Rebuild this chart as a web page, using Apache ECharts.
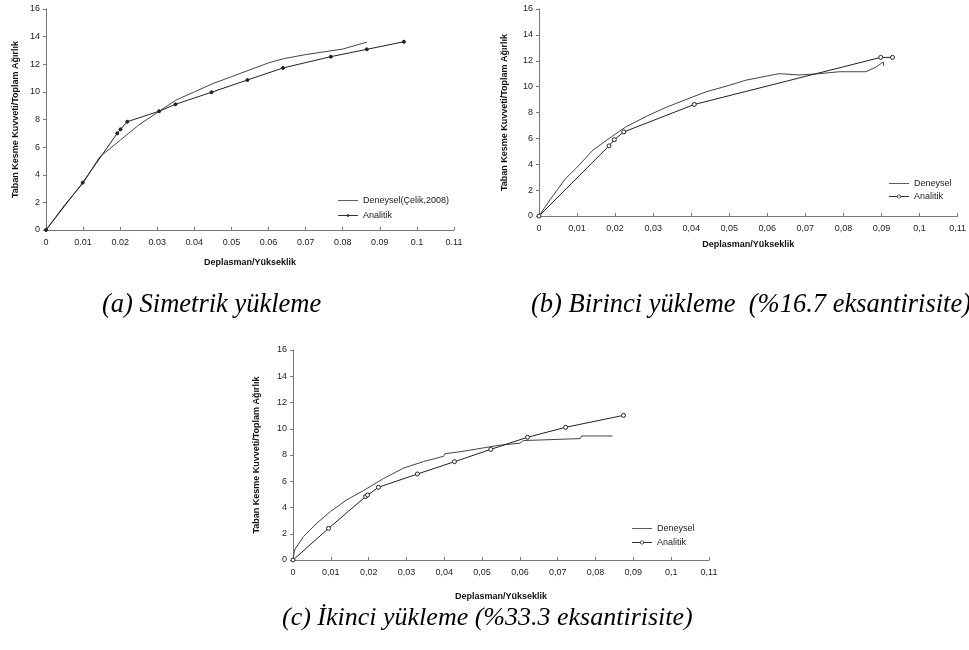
<!DOCTYPE html>
<html>
<head>
<meta charset="utf-8">
<script src="https://cdn.jsdelivr.net/npm/echarts@6/dist/echarts.min.js"></script>
<style>
  html, body { margin: 0; padding: 0; background: #fff; }
  #main { width: 969px; height: 650px; }
</style>
</head>
<body>
<div id="main"></div>
<script>
// eksen degerleri
var xTicks = [0, 0.11, 0.01];
var yTicks = [0, 16, 2];

// (a) Simetrik yukleme
var aDeneysel = [[0,0],[0.005,1.8],[0.01,3.4],[0.0145,5.3],[0.02,6.5],[0.025,7.6],[0.03,8.5],[0.035,9.4],
  [0.04,10.0],[0.045,10.6],[0.05,11.1],[0.055,11.6],[0.06,12.1],[0.064,12.4],[0.07,12.7],[0.075,12.9],
  [0.08,13.1],[0.0865,13.6]];
var aAnalitik = [[0,0],[0.0099,3.43],[0.0192,7.0],[0.0201,7.29],[0.0219,7.84],[0.0305,8.6],[0.0349,9.1],
  [0.0446,9.97],[0.0543,10.86],[0.0639,11.73],[0.0768,12.55],[0.0865,13.08],[0.0965,13.63]];

// (b) Birinci yukleme
var bDeneysel = [[0,0],[0.003,1.3],[0.007,2.9],[0.0098,3.7],[0.0142,5.1],[0.0194,6.2],[0.0229,6.9],
  [0.0282,7.7],[0.0334,8.4],[0.0386,9.0],[0.0439,9.6],[0.05,10.1],[0.0544,10.5],[0.0596,10.8],
  [0.0631,11.0],[0.0684,10.9],[0.0736,11.0],[0.0789,11.15],[0.0859,11.15],[0.0885,11.5],[0.0905,11.9],[0.0906,11.6]];
var bAnalitik = [[0,0],[0.0184,5.42],[0.0198,5.9],[0.0223,6.5],[0.0408,8.62],[0.0898,12.26],[0.0929,12.26]];

// (c) Ikinci yukleme
var cDeneysel = [[0,0],[0.0004,0.76],[0.0028,1.8],[0.0063,2.8],[0.0099,3.7],[0.0143,4.6],[0.0187,5.3],
  [0.0239,6.2],[0.0292,7.0],[0.0345,7.5],[0.0398,7.9],[0.0402,8.1],[0.0442,8.25],[0.0495,8.5],
  [0.0547,8.75],[0.06,8.9],[0.0609,9.1],[0.0759,9.25],[0.0763,9.45],[0.0845,9.45]];
var cAnalitik = [[0,0],[0.0094,2.41],[0.0192,4.83],[0.0197,4.95],[0.0226,5.54],[0.0329,6.55],[0.0427,7.49],
  [0.0523,8.43],[0.062,9.35],[0.0721,10.11],[0.0874,11.02]];

var captions = ['(a) Simetrik yükleme', '(b) Birinci yükleme  (%16.7 eksantirisite)', '(c) İkinci yükleme (%33.3 eksantirisite)'];

var myChart = echarts.init(document.getElementById('main'));

var lbl = { fontFamily: 'Liberation Sans', fontSize: 9, color: '#222' };
var nameStyle = { fontFamily: 'Liberation Sans', fontSize: 9, fontWeight: 'bold', color: '#111' };

// lejant simgeleri: cizgi, cizgi+nokta, cizgi+halka
var iconLine = 'path://M0,3.6L20,3.6L20,4.4L0,4.4Z';
var iconDot = 'path://M0,3.6L20,3.6L20,4.4L0,4.4Z M9,2.8L11,2.8L11,5.2L9,5.2Z';
var iconRing = 'path://M0,3.6L8,3.6L8,4.4L0,4.4Z M12,3.6L20,3.6L20,4.4L12,4.4Z M8,4A2,2,0,1,0,12,4A2,2,0,1,0,8,4Z M8.8,4A1.2,1.2,0,1,1,11.2,4A1.2,1.2,0,1,1,8.8,4Z';

function xAxis(i, comma, gap) {
  return {
    gridIndex: i, type: 'value', min: xTicks[0], max: xTicks[1], interval: xTicks[2],
    name: 'Deplasman/Yükseklik', nameLocation: 'middle', nameGap: gap, nameTextStyle: nameStyle,
    axisLine: { lineStyle: { color: '#777' } },
    axisTick: { inside: true, length: 3, lineStyle: { color: '#777' } },
    splitLine: { show: false },
    axisLabel: Object.assign({ margin: 8, formatter: function (v) {
      var s = String(+v.toFixed(2));
      return comma ? s.replace('.', ',') : s;
    } }, lbl)
  };
}
function yAxis(i, gap) {
  return {
    gridIndex: i, type: 'value', min: yTicks[0], max: yTicks[1], interval: yTicks[2],
    name: 'Taban Kesme Kuvveti/Toplam Ağırlık', nameLocation: 'middle', nameGap: gap, nameTextStyle: nameStyle,
    axisLine: { show: true, lineStyle: { color: '#777' } },
    axisTick: { show: true, length: 3, lineStyle: { color: '#777' } },
    splitLine: { show: false },
    axisLabel: Object.assign({ margin: 6 }, lbl)
  };
}
function den(name, i, data) {
  return { name: name, type: 'line', xAxisIndex: i, yAxisIndex: i, data: data, symbol: 'none',
    lineStyle: { color: '#444', width: 1 }, itemStyle: { color: '#444' }, animation: false };
}
function ana(name, i, data, filled) {
  return { name: name, type: 'line', xAxisIndex: i, yAxisIndex: i, data: data,
    symbol: 'circle', symbolSize: filled ? 3 : 4,
    lineStyle: { color: '#222', width: 1 },
    itemStyle: { color: filled ? '#222' : '#fff', borderColor: '#222', borderWidth: 1 }, animation: false };
}
function legend(names, anaIcon, left, top, gap) {
  var st = { color: '#333', borderWidth: 0 };
  return { data: [{ name: names[0], icon: iconLine, itemStyle: st }, { name: names[1], icon: anaIcon, itemStyle: st }],
    left: left, top: top, orient: 'vertical', itemGap: gap, itemWidth: 20, itemHeight: 8,
    formatter: function (n) { return n.trim(); }, textStyle: lbl, selectedMode: false };
}
function caption(text, left, top, size) {
  return { text: text, left: left, top: top,
    textStyle: { fontFamily: 'Liberation Serif', fontStyle: 'italic', fontWeight: 'normal', fontSize: size, color: '#000' } };
}

myChart.setOption({
  backgroundColor: '#fff',
  title: [caption(captions[0], 97, 287, 26.5), caption(captions[1], 526, 287, 26.5), caption(captions[2], 277, 600, 26)],
  grid: [
    { left: 46, right: 515, top: 9, bottom: 420 },
    { left: 539, right: 10, top: 9, bottom: 434 },
    { left: 293, right: 260, top: 350, bottom: 90 }
  ],
  xAxis: [xAxis(0, false, 28), xAxis(1, true, 24), xAxis(2, true, 32)],
  yAxis: [yAxis(0, 26), yAxis(1, 30), yAxis(2, 32)],
  legend: [
    legend(['Deneysel(Çelik,2008)', 'Analitik'], iconDot, 333, 191, 6),
    legend(['Deneysel ', 'Analitik '], iconRing, 884, 174, 4),
    legend(['Deneysel  ', 'Analitik  '], iconRing, 627, 519, 5)
  ],
  series: [
    den('Deneysel(Çelik,2008)', 0, aDeneysel),
    ana('Analitik', 0, aAnalitik, true),
    den('Deneysel ', 1, bDeneysel),
    ana('Analitik ', 1, bAnalitik, false),
    den('Deneysel  ', 2, cDeneysel),
    ana('Analitik  ', 2, cAnalitik, false)
  ]
});
</script>
</body>
</html>
